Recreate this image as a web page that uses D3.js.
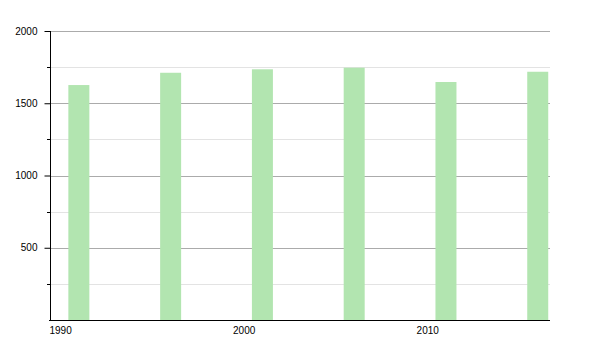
<!DOCTYPE html>
<html>
<head>
<meta charset="utf-8">
<script src="https://cdn.jsdelivr.net/npm/d3@7"></script>
<style>
  html, body { margin: 0; padding: 0; background: #fff; }
  svg { display: block; font-family: "Liberation Sans", Arial, sans-serif; }
</style>
</head>
<body>
<svg id="chart" width="600" height="350"></svg>
<script>
const years = [1991, 1996, 2001, 2006, 2011, 2016];
const values = [1626, 1711, 1735, 1746, 1647, 1718];
const yMajorTicks = [500, 1000, 1500, 2000];
const yMinorTicks = [250, 750, 1250, 1750];
const xTicks = [1990, 2000, 2010];

const svg = d3.select("#chart");
const mLeft = 50, mRight = 550, mTop = 31, mBottom = 320;

const x = d3.scaleLinear().domain([1990, 2017.24]).range([mLeft, mRight]);
const y = d3.scaleLinear().domain([0, 2000]).range([mBottom, mTop]);
const barW = 21;

// minor grid
svg.append("g").selectAll("line").data(yMinorTicks).join("line")
  .attr("x1", mLeft).attr("x2", mRight)
  .attr("y1", d => Math.round(y(d)) + 0.5).attr("y2", d => Math.round(y(d)) + 0.5)
  .attr("stroke", "#e3e3e3").attr("stroke-width", 1);
// major grid
svg.append("g").selectAll("line").data(yMajorTicks).join("line")
  .attr("x1", mLeft).attr("x2", mRight)
  .attr("y1", d => Math.round(y(d)) + 0.5).attr("y2", d => Math.round(y(d)) + 0.5)
  .attr("stroke", "#ababab").attr("stroke-width", 1);

// bars
svg.append("g").selectAll("rect").data(years).join("rect")
  .attr("x", d => x(d))
  .attr("y", (d, i) => y(values[i]))
  .attr("width", barW)
  .attr("height", (d, i) => y(0) - y(values[i]))
  .attr("fill", "#b2e5b0");

// y axis
const yAxis = d3.axisLeft(y).tickValues(yMajorTicks).tickSize(6).tickPadding(7).tickFormat(d3.format("d"));
const gy = svg.append("g").attr("transform", `translate(${mLeft + 0.5},0)`).call(yAxis);
gy.select(".domain").attr("d", `M0,${mTop}V${mBottom}`).attr("stroke", "#000");
gy.selectAll(".tick line").attr("stroke", "#000");
gy.selectAll(".tick text").attr("font-size", 10).attr("fill", "#000")
  .attr("font-family", "Liberation Sans, Arial, sans-serif");
// minor y ticks
svg.append("g").selectAll("line").data(yMinorTicks).join("line")
  .attr("x1", mLeft - 3).attr("x2", mLeft)
  .attr("y1", d => Math.round(y(d)) + 0.5).attr("y2", d => Math.round(y(d)) + 0.5)
  .attr("stroke", "#000");

// x axis
const xAxis = d3.axisBottom(x).tickValues(xTicks).tickSize(0).tickPadding(6).tickFormat(d3.format("d"));
const gx = svg.append("g").attr("transform", `translate(0,${mBottom + 0.5})`).call(xAxis);
gx.select(".domain").attr("d", `M${mLeft - 1},0H${mRight}`).attr("stroke", "#000");
gx.selectAll(".tick text").attr("font-size", 10).attr("fill", "#000")
  .attr("text-anchor", "start").attr("dx", -1)
  .attr("font-family", "Liberation Sans, Arial, sans-serif");
</script>
</body>
</html>
